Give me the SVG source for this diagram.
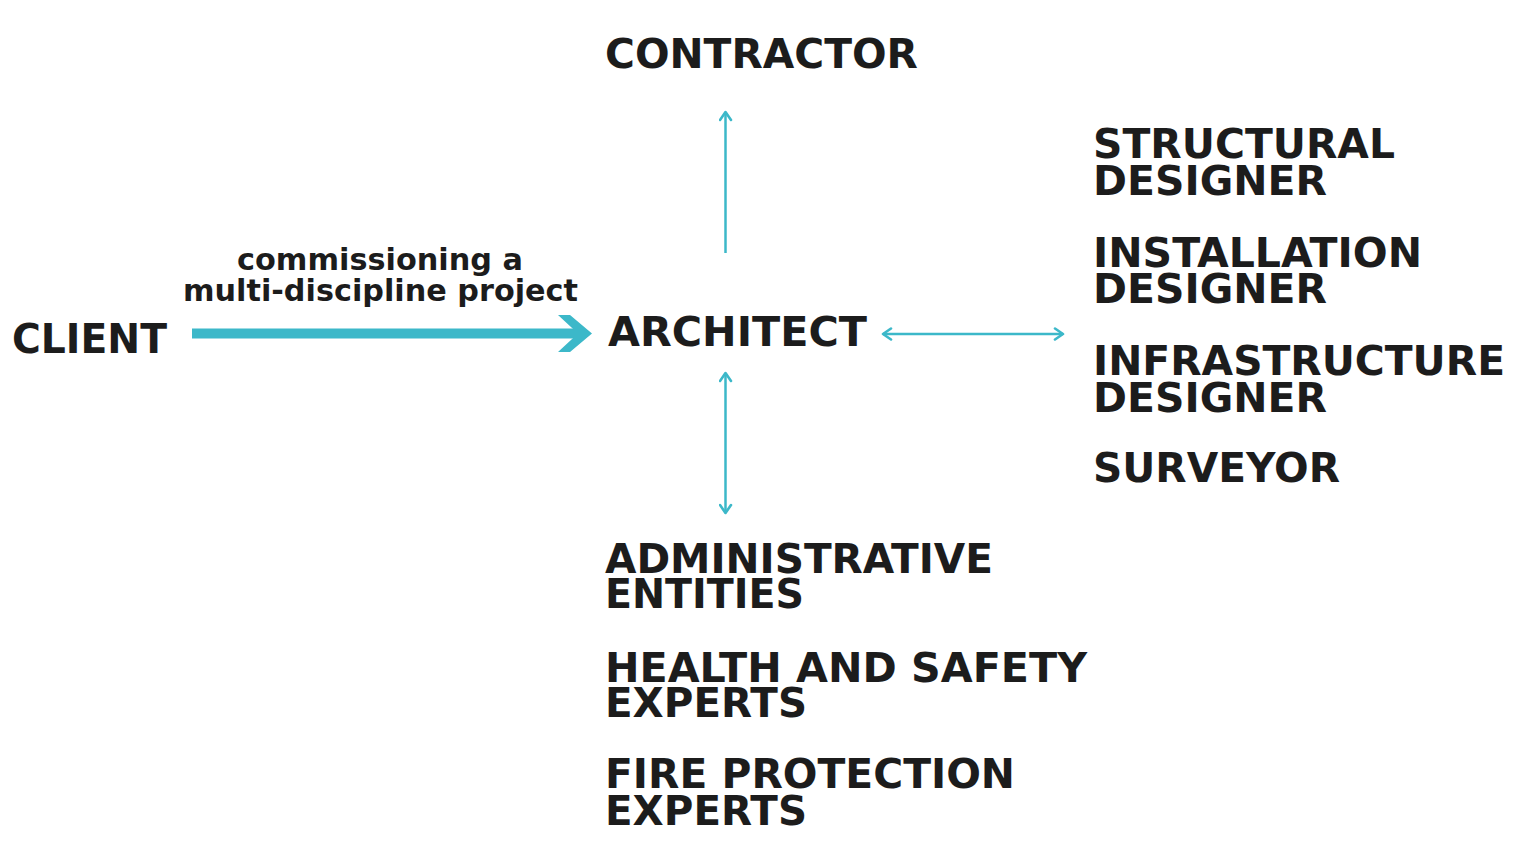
<svg xmlns="http://www.w3.org/2000/svg" width="1536" height="855" viewBox="0 0 1536 855">
<style>
.t{font-family:"DejaVu Sans","Liberation Sans",sans-serif;font-weight:bold;font-size:41px;fill:#1c1c1c}
.c{font-family:"DejaVu Sans","Liberation Sans",sans-serif;font-weight:bold;font-size:30px;fill:#1c1c1c}
.ln{stroke:#3cb8c9;stroke-width:2.5;fill:none}
</style>
<defs>
<marker id="ah" viewBox="0 0 12 14" refX="10" refY="7" markerWidth="12" markerHeight="14" markerUnits="userSpaceOnUse" orient="auto-start-reverse">
<path d="M2,1.5 L10,7 L2,12.5" fill="none" stroke="#3cb8c9" stroke-width="2.6" stroke-linecap="round" stroke-linejoin="round"/>
</marker>
</defs>
<rect width="1536" height="855" fill="#ffffff"/>
<g id="connectors">
<rect x="192" y="328.5" width="388" height="10" fill="#3cb8c9"/>
<polygon points="558,315 570,315 592,333.5 570,352 558,352 578,333.5" fill="#3cb8c9"/>
<line class="ln" x1="725.5" y1="253" x2="725.5" y2="112" marker-end="url(#ah)"/>
<line class="ln" x1="725.5" y1="373" x2="725.5" y2="513" marker-start="url(#ah)" marker-end="url(#ah)"/>
<line class="ln" x1="883" y1="334" x2="1063" y2="334" marker-start="url(#ah)" marker-end="url(#ah)"/>
</g>
<g id="label-commissioning">
<text class="c"><tspan x="237" y="270" textLength="286" lengthAdjust="spacingAndGlyphs">commissioning a</tspan><tspan x="183" y="301" textLength="395" lengthAdjust="spacingAndGlyphs">multi-discipline project</tspan></text>
</g>
<g id="client"><text class="t" x="12" y="353" textLength="155" lengthAdjust="spacingAndGlyphs">CLIENT</text></g>
<g id="architect"><text class="t" x="608" y="346" textLength="259" lengthAdjust="spacingAndGlyphs">ARCHITECT</text></g>
<g id="contractor"><text class="t" x="605" y="68" textLength="313" lengthAdjust="spacingAndGlyphs">CONTRACTOR</text></g>
<g id="structural-designer">
<text class="t"><tspan x="1093" y="158" textLength="302" lengthAdjust="spacingAndGlyphs">STRUCTURAL</tspan><tspan x="1093" y="195" textLength="234" lengthAdjust="spacingAndGlyphs">DESIGNER</tspan></text>
</g>
<g id="installation-designer">
<text class="t"><tspan x="1093" y="267" textLength="329" lengthAdjust="spacingAndGlyphs">INSTALLATION</tspan><tspan x="1093" y="303" textLength="234" lengthAdjust="spacingAndGlyphs">DESIGNER</tspan></text>
</g>
<g id="infrastructure-designer">
<text class="t"><tspan x="1093" y="375" textLength="412" lengthAdjust="spacingAndGlyphs">INFRASTRUCTURE</tspan><tspan x="1093" y="412" textLength="234" lengthAdjust="spacingAndGlyphs">DESIGNER</tspan></text>
</g>
<g id="surveyor"><text class="t" x="1093" y="482" textLength="247" lengthAdjust="spacingAndGlyphs">SURVEYOR</text></g>
<g id="administrative-entities">
<text class="t"><tspan x="605" y="573" textLength="388" lengthAdjust="spacingAndGlyphs">ADMINISTRATIVE</tspan><tspan x="605" y="608" textLength="199" lengthAdjust="spacingAndGlyphs">ENTITIES</tspan></text>
</g>
<g id="health-and-safety-experts">
<text class="t"><tspan x="605" y="682" textLength="482" lengthAdjust="spacingAndGlyphs">HEALTH AND SAFETY</tspan><tspan x="605" y="717" textLength="202" lengthAdjust="spacingAndGlyphs">EXPERTS</tspan></text>
</g>
<g id="fire-protection-experts">
<text class="t"><tspan x="605" y="788" textLength="410" lengthAdjust="spacingAndGlyphs">FIRE PROTECTION</tspan><tspan x="605" y="825" textLength="202" lengthAdjust="spacingAndGlyphs">EXPERTS</tspan></text>
</g>
</svg>
